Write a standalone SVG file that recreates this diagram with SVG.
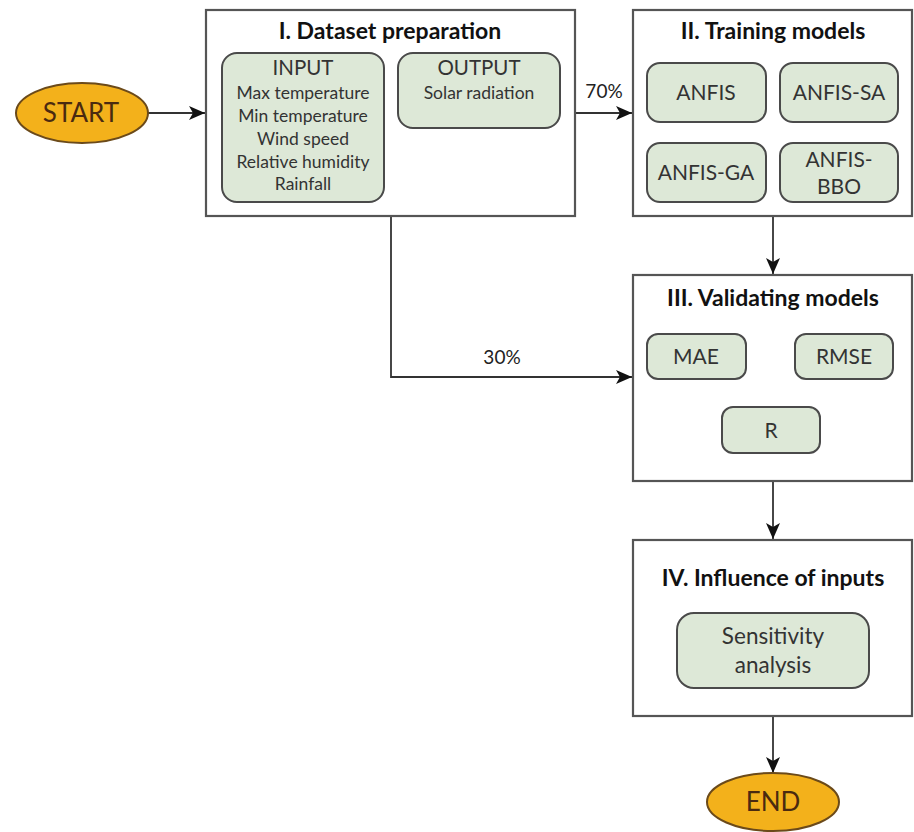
<svg xmlns="http://www.w3.org/2000/svg" width="914" height="832" viewBox="0 0 914 832">
<defs>
<marker id="arr" viewBox="0 0 16 14" refX="16" refY="7" markerWidth="16" markerHeight="14" markerUnits="userSpaceOnUse" orient="auto">
<path d="M0,0 L16,7 L0,14 L4,7 Z" fill="#111"/>
</marker>
<style>
.box{fill:#fff;stroke:#555;stroke-width:2.2}
.sub{fill:#dde8d7;stroke:#4a4a4a;stroke-width:2}
.term{fill:#f3b11b;stroke:#6b4a1a;stroke-width:2}
.edge{fill:none;stroke:#333;stroke-width:1.8;marker-end:url(#arr)}
text{font-family:Lato,"Open Sans","Liberation Sans",sans-serif;text-anchor:middle}
.title{font-size:23px;font-weight:bold;fill:#111}
.t18{font-size:21px;fill:#333}
.t20{font-size:20.5px;fill:#333}
.t15{font-size:17.5px;fill:#333}
.sens{font-size:22.5px;fill:#333}
.lab{font-size:19px;fill:#222}
.term-t{font-size:26px;fill:#4a2a10}
</style>
</defs>
<rect width="914" height="832" fill="#fff"/>
<g id="connectors">
<line class="edge" x1="148" y1="113" x2="205" y2="113"/>
<line class="edge" x1="575" y1="113" x2="632" y2="113"/>
<polyline class="edge" points="391,216 391,377 632,377"/>
<line class="edge" x1="773" y1="216" x2="773" y2="274"/>
<line class="edge" x1="773" y1="481" x2="773" y2="539"/>
<line class="edge" x1="773" y1="716" x2="773" y2="773"/>
<text class="lab" x="604" y="98">70%</text>
<text class="lab" x="502" y="364">30%</text>
</g>
<g id="start">
<ellipse class="term" cx="82" cy="113" rx="66" ry="30"/>
<text class="term-t" x="81" y="122">START</text>
</g>
<g id="dataset">
<rect class="box" x="206" y="10" width="369" height="206"/>
<text class="title" x="390" y="39">I. Dataset preparation</text>
</g>
<g id="input">
<rect class="sub" x="222" y="53" width="162" height="149" rx="15"/>
<text class="t20" x="303" y="75">INPUT</text>
<text class="t15" x="303" y="99">Max temperature</text>
<text class="t15" x="303" y="122">Min temperature</text>
<text class="t15" x="303" y="145">Wind speed</text>
<text class="t15" x="303" y="168">Relative humidity</text>
<text class="t15" x="303" y="190">Rainfall</text>
</g>
<g id="output">
<rect class="sub" x="398" y="53" width="162" height="75" rx="15"/>
<text class="t20" x="479" y="75">OUTPUT</text>
<text class="t15" x="479" y="99">Solar radiation</text>
</g>
<g id="training">
<rect class="box" x="633" y="10" width="279" height="206"/>
<text class="title" x="773" y="39">II. Training models</text>
</g>
<g id="anfis">
<rect class="sub" x="647" y="63" width="119" height="59" rx="13"/>
<text class="t18" x="706" y="100">ANFIS</text>
</g>
<g id="anfis-sa">
<rect class="sub" x="780" y="63" width="118" height="59" rx="13"/>
<text class="t18" x="839" y="100">ANFIS-SA</text>
</g>
<g id="anfis-ga">
<rect class="sub" x="647" y="143" width="119" height="59" rx="13"/>
<text class="t18" x="706" y="180">ANFIS-GA</text>
</g>
<g id="anfis-bbo">
<rect class="sub" x="780" y="143" width="118" height="59" rx="13"/>
<text class="t18" x="839" y="167">ANFIS-</text>
<text class="t18" x="839" y="194">BBO</text>
</g>
<g id="validating">
<rect class="box" x="633" y="275" width="279" height="206"/>
<text class="title" x="773" y="306">III. Validating models</text>
</g>
<g id="mae">
<rect class="sub" x="647" y="334" width="99" height="45" rx="11"/>
<text class="t18" x="696" y="364">MAE</text>
</g>
<g id="rmse">
<rect class="sub" x="795" y="334" width="98" height="45" rx="11"/>
<text class="t18" x="844" y="364">RMSE</text>
</g>
<g id="r">
<rect class="sub" x="722" y="407" width="98" height="46" rx="11"/>
<text class="t18" x="771" y="438">R</text>
</g>
<g id="influence">
<rect class="box" x="633" y="540" width="279" height="176"/>
<text class="title" x="773" y="586">IV. Influence of inputs</text>
</g>
<g id="sensitivity">
<rect class="sub" x="677" y="613" width="192" height="75" rx="17"/>
<text class="sens" x="773" y="644">Sensitivity</text>
<text class="sens" x="773" y="673">analysis</text>
</g>
<g id="end">
<ellipse class="term" cx="773" cy="802" rx="66" ry="29"/>
<text class="term-t" x="773" y="811">END</text>
</g>
</svg>
